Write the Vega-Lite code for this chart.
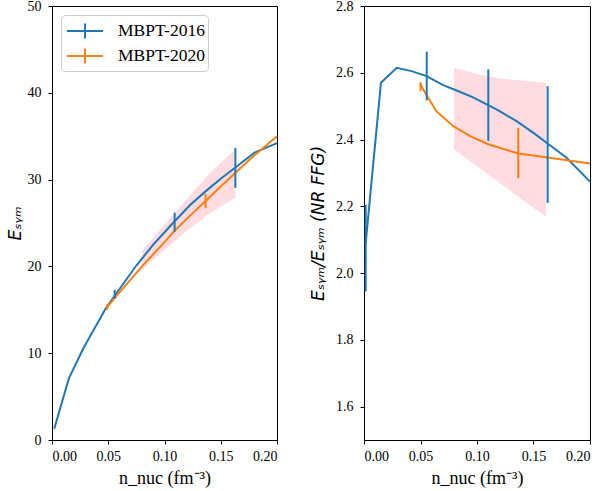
{
  "$schema": "https://vega.github.io/schema/vega-lite/v6.json",
  "padding": {"left": 5, "top": -2, "right": 0, "bottom": 1},
  "spacing": 27,
  "background": "white",
  "config": {
    "view": {"stroke": "black", "strokeWidth": 1},
    "axis": {
      "grid": false, "domain": false, "tickColor": "black", "tickSize": 4, "tickWidth": 1,
      "labelFont": "Liberation Serif", "labelFontSize": 14, "labelColor": "black", "labelPadding": 7,
      "titleFont": "DejaVu Sans", "titleFontSize": 17, "titleFontWeight": "normal", "titleColor": "black"
    },
    "axisX": {"titleFont": "Liberation Serif", "titleFontSize": 18, "titlePadding": 6, "labelPadding": 5}
  },
  "datasets": {
    "lineL": [
      {"series": "MBPT-2016", "x": 0.002, "y": 1.3},
      {"series": "MBPT-2016", "x": 0.015, "y": 7.1},
      {"series": "MBPT-2016", "x": 0.028, "y": 10.6},
      {"series": "MBPT-2016", "x": 0.048, "y": 15.2},
      {"series": "MBPT-2016", "x": 0.06, "y": 17.4},
      {"series": "MBPT-2016", "x": 0.075, "y": 20.1},
      {"series": "MBPT-2016", "x": 0.09, "y": 22.5},
      {"series": "MBPT-2016", "x": 0.109, "y": 25.2},
      {"series": "MBPT-2016", "x": 0.123, "y": 27.1},
      {"series": "MBPT-2016", "x": 0.137, "y": 28.7},
      {"series": "MBPT-2016", "x": 0.15, "y": 30.1},
      {"series": "MBPT-2016", "x": 0.163, "y": 31.4},
      {"series": "MBPT-2016", "x": 0.18, "y": 33.1},
      {"series": "MBPT-2016", "x": 0.2, "y": 34.2},
      {"series": "MBPT-2020", "x": 0.049, "y": 15.3},
      {"series": "MBPT-2020", "x": 0.06, "y": 17.0},
      {"series": "MBPT-2020", "x": 0.08, "y": 20.0},
      {"series": "MBPT-2020", "x": 0.1, "y": 22.8},
      {"series": "MBPT-2020", "x": 0.109, "y": 24.1},
      {"series": "MBPT-2020", "x": 0.12, "y": 25.5},
      {"series": "MBPT-2020", "x": 0.137, "y": 27.6},
      {"series": "MBPT-2020", "x": 0.15, "y": 29.2},
      {"series": "MBPT-2020", "x": 0.163, "y": 30.8},
      {"series": "MBPT-2020", "x": 0.18, "y": 32.8},
      {"series": "MBPT-2020", "x": 0.2, "y": 35.0}
    ],
    "errL": [
      {"series": "MBPT-2016", "x": 0.0557, "lo": 16.3, "hi": 17.3},
      {"series": "MBPT-2016", "x": 0.109, "lo": 24.0, "hi": 26.2},
      {"series": "MBPT-2016", "x": 0.163, "lo": 29.05, "hi": 33.65},
      {"series": "MBPT-2020", "x": 0.049, "lo": 15.0, "hi": 15.6},
      {"series": "MBPT-2020", "x": 0.1365, "lo": 26.7, "hi": 28.35}
    ],
    "bandL": [
      {"x": 0.08, "lo": 19.6, "hi": 21.8},
      {"x": 0.1, "lo": 21.9, "hi": 24.8},
      {"x": 0.12, "lo": 24.1, "hi": 27.8},
      {"x": 0.14, "lo": 26.1, "hi": 30.7},
      {"x": 0.163, "lo": 27.9, "hi": 33.5}
    ],
    "lineR": [
      {"series": "MBPT-2016", "x": 0.0015, "y": 2.09},
      {"series": "MBPT-2016", "x": 0.015, "y": 2.57},
      {"series": "MBPT-2016", "x": 0.029, "y": 2.615},
      {"series": "MBPT-2016", "x": 0.042, "y": 2.605},
      {"series": "MBPT-2016", "x": 0.0555, "y": 2.59},
      {"series": "MBPT-2016", "x": 0.07, "y": 2.563},
      {"series": "MBPT-2016", "x": 0.082, "y": 2.547},
      {"series": "MBPT-2016", "x": 0.096, "y": 2.527},
      {"series": "MBPT-2016", "x": 0.11, "y": 2.503},
      {"series": "MBPT-2016", "x": 0.12, "y": 2.485},
      {"series": "MBPT-2016", "x": 0.135, "y": 2.455},
      {"series": "MBPT-2016", "x": 0.15, "y": 2.42},
      {"series": "MBPT-2016", "x": 0.1625, "y": 2.388},
      {"series": "MBPT-2016", "x": 0.179, "y": 2.346},
      {"series": "MBPT-2016", "x": 0.2, "y": 2.274},
      {"series": "MBPT-2020", "x": 0.05, "y": 2.567},
      {"series": "MBPT-2020", "x": 0.052, "y": 2.552},
      {"series": "MBPT-2020", "x": 0.064, "y": 2.485},
      {"series": "MBPT-2020", "x": 0.079, "y": 2.44},
      {"series": "MBPT-2020", "x": 0.094, "y": 2.41},
      {"series": "MBPT-2020", "x": 0.11, "y": 2.386},
      {"series": "MBPT-2020", "x": 0.1365, "y": 2.358},
      {"series": "MBPT-2020", "x": 0.1625, "y": 2.346},
      {"series": "MBPT-2020", "x": 0.2, "y": 2.328}
    ],
    "errR": [
      {"series": "MBPT-2016", "x": 0.0015, "lo": 1.945, "hi": 2.205},
      {"series": "MBPT-2016", "x": 0.0555, "lo": 2.517, "hi": 2.663},
      {"series": "MBPT-2016", "x": 0.11, "lo": 2.396, "hi": 2.61},
      {"series": "MBPT-2016", "x": 0.1625, "lo": 2.21, "hi": 2.56},
      {"series": "MBPT-2020", "x": 0.05, "lo": 2.545, "hi": 2.572},
      {"series": "MBPT-2020", "x": 0.1365, "lo": 2.284, "hi": 2.435}
    ],
    "bandR": [
      {"x": 0.0797, "lo": 2.371, "hi": 2.615},
      {"x": 0.1, "lo": 2.32, "hi": 2.596},
      {"x": 0.12, "lo": 2.27, "hi": 2.583},
      {"x": 0.14, "lo": 2.22, "hi": 2.576},
      {"x": 0.161, "lo": 2.169, "hi": 2.57}
    ]
  },
  "resolve": {"legend": {"color": "independent"}},
  "hconcat": [
    {
      "width": 225,
      "height": 434,
      "encoding": {
        "x": {"field": "x", "type": "quantitative", "scale": {"domain": [0, 0.2], "nice": false},
              "axis": {"values": [0, 0.05, 0.1, 0.15, 0.2], "format": ".2f", "title": "n_nuc (fm⁻³)"}}
      },
      "layer": [
        {
          "data": {"name": "bandL"},
          "mark": {"type": "area", "color": "#ffc0cb", "opacity": 0.55},
          "encoding": {
            "y": {"field": "lo", "type": "quantitative", "scale": {"domain": [0, 50], "nice": false},
                  "axis": {"values": [0, 10, 20, 30, 40, 50], "title": "Eₛᵧₘ", "titleFontStyle": "italic", "titlePadding": 3}},
            "y2": {"field": "hi"}
          }
        },
        {
          "data": {"name": "lineL"},
          "mark": {"type": "line", "strokeWidth": 2},
          "encoding": {
            "y": {"field": "y", "type": "quantitative"},
            "color": {"field": "series", "type": "nominal",
                      "scale": {"domain": ["MBPT-2016", "MBPT-2020"], "range": ["#1f77b4", "#ff7f0e"]},
                      "legend": {"title": null, "orient": "top-left", "offset": 9,
                                 "symbolType": "M-0.833,0L2.167,0M0.667,-0.625L0.667,0.625", "symbolSize": 576, "symbolStrokeWidth": 2,
                                 "labelFont": "Liberation Serif", "labelFontSize": 17.5, "labelColor": "black",
                                 "labelOffset": 28, "rowPadding": -6, "padding": 3,
                                 "strokeColor": "#cccccc", "fillColor": "white", "cornerRadius": 4}}
          }
        },
        {
          "data": {"name": "errL"},
          "mark": {"type": "rule", "strokeWidth": 2},
          "encoding": {
            "y": {"field": "lo", "type": "quantitative"},
            "y2": {"field": "hi"},
            "color": {"field": "series", "type": "nominal"}
          }
        }
      ]
    },
    {
      "width": 226,
      "height": 434,
      "encoding": {
        "x": {"field": "x", "type": "quantitative", "scale": {"domain": [0, 0.2], "nice": false},
              "axis": {"values": [0, 0.05, 0.1, 0.15, 0.2], "format": ".2f", "title": "n_nuc (fm⁻³)"}}
      },
      "layer": [
        {
          "data": {"name": "bandR"},
          "mark": {"type": "area", "color": "#ffc0cb", "opacity": 0.55},
          "encoding": {
            "y": {"field": "lo", "type": "quantitative", "scale": {"domain": [1.5, 2.8], "nice": false, "zero": false},
                  "axis": {"values": [1.6, 1.8, 2.0, 2.2, 2.4, 2.6, 2.8], "format": ".1f", "title": "Eₛᵧₘ/Eₛᵧₘ (NR FFG)", "titleFontStyle": "italic", "titlePadding": 8}},
            "y2": {"field": "hi"}
          }
        },
        {
          "data": {"name": "lineR"},
          "mark": {"type": "line", "strokeWidth": 2},
          "encoding": {
            "y": {"field": "y", "type": "quantitative"},
            "color": {"field": "series", "type": "nominal",
                      "scale": {"domain": ["MBPT-2016", "MBPT-2020"], "range": ["#1f77b4", "#ff7f0e"]},
                      "legend": null}
          }
        },
        {
          "data": {"name": "errR"},
          "mark": {"type": "rule", "strokeWidth": 2},
          "encoding": {
            "y": {"field": "lo", "type": "quantitative"},
            "y2": {"field": "hi"},
            "color": {"field": "series", "type": "nominal", "legend": null}
          }
        }
      ]
    }
  ]
}
